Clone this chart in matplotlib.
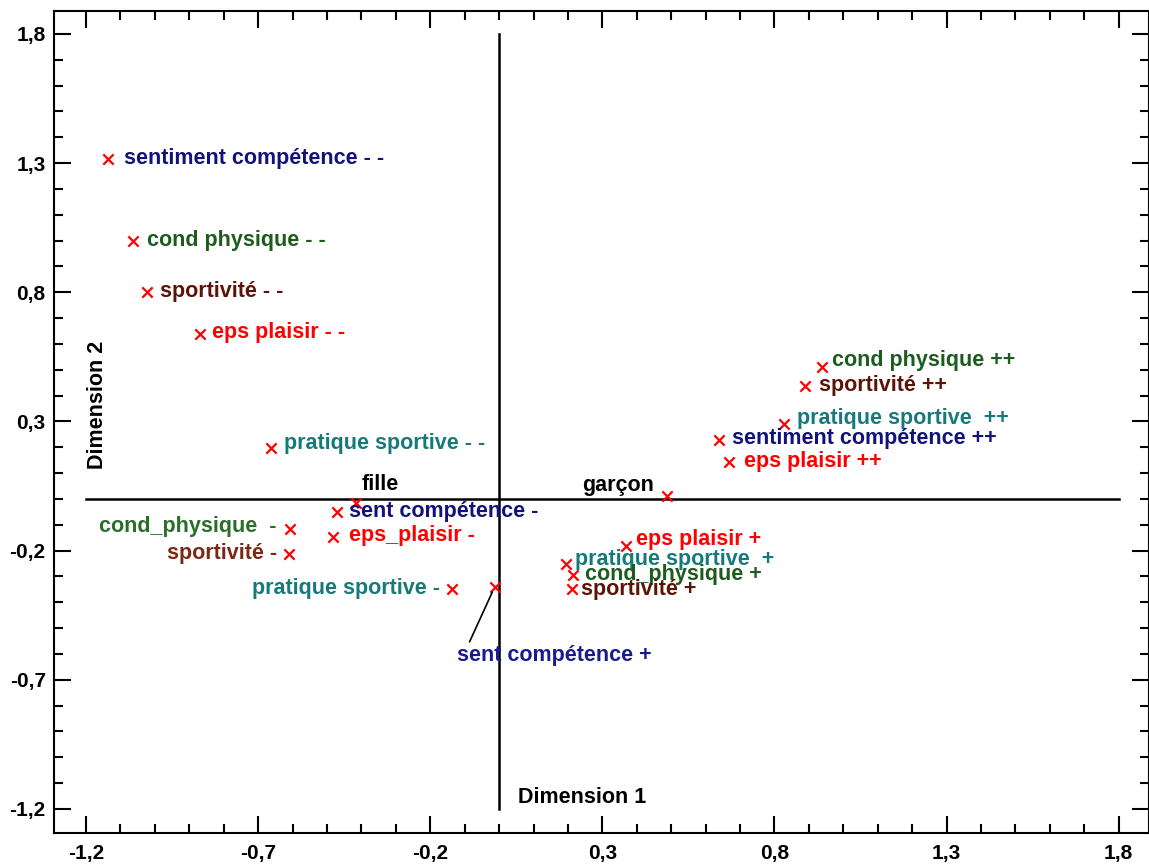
import matplotlib
matplotlib.use("Agg")
import matplotlib.pyplot as plt
from matplotlib.ticker import FixedLocator, FuncFormatter

plt.rcParams['font.family'] = ['Liberation Sans', 'DejaVu Sans']

# ---- data ----
labels = [
    "sentiment compétence - -", "cond physique - -", "sportivité - -", "eps plaisir - -",
    "pratique sportive - -", "fille", "sent compétence -", "eps_plaisir -",
    "cond_physique  -", "sportivité -", "pratique sportive -", "sent compétence +",
    "garçon", "eps plaisir +", "pratique sportive  +", "cond_physique +",
    "sportivité +", "cond physique ++", "sportivité ++", "pratique sportive  ++",
    "sentiment compétence ++", "eps plaisir ++",
]
dim1 = [-1.136, -1.064, -1.023, -0.869, -0.663, -0.417, -0.472, -0.483,
        -0.608, -0.611, -0.138, -0.013, 0.488, 0.370, 0.195, 0.216,
        0.213, 0.938, 0.889, 0.828, 0.639, 0.668]
dim2 = [1.316, 0.999, 0.801, 0.639, 0.197, -0.016, -0.051, -0.147,
        -0.116, -0.213, -0.349, -0.341, 0.011, -0.182, -0.252, -0.294,
        -0.349, 0.511, 0.437, 0.290, 0.228, 0.143]
xticks = [-1.2, -0.7, -0.2, 0.3, 0.8, 1.3, 1.8]
yticks = [-1.2, -0.7, -0.2, 0.3, 0.8, 1.3, 1.8]

# ---- styles (per label) ----
NAVY = '#12127a'
GREEN = '#1d5c1d'
BROWN = '#5c1408'
BROWN2 = '#7a2a14'
RED = '#ff0000'
TEAL = '#167a7a'
colors = [NAVY, GREEN, BROWN, RED, TEAL, 'black', NAVY, RED,
          '#2a6e2a', BROWN2, TEAL, '#1a1a8c', 'black', RED, TEAL, GREEN,
          BROWN, GREEN, BROWN, TEAL, NAVY, RED]
# label offsets in pixels (dx, dy), alignment
offsets = [(16, 1), (14, 0), (13, 1), (12, 1), (13, 5), (6, 19), (12, 1), (16, 1),
           (-13, 2), (-12, 1), (-12, 1), (-38, -68), (-13, 11), (10, 6), (9, 5), (12, 0),
           (9, 0), (10, 6), (14, 1), (13, 6), (13, 2), (15, 1)]
aligns = ['left'] * 8 + ['right', 'right', 'right', 'left', 'right'] + ['left'] * 9
FS = 15.5

fig = plt.figure(figsize=(11.49, 8.66), dpi=100)
ax = fig.add_axes([54 / 1149, 33 / 866, 1 - 54 / 1149, (833 - 11) / 866])

ax.set_xlim(-1.293, 1.888)
ax.set_ylim(-1.293, 1.889)

# reference axes
ax.plot([-1.2, 1.8], [0, 0], color='black', lw=1.8, zorder=1)
ax.plot([0, 0], [-1.2, 1.8], color='black', lw=1.8, zorder=1)

ax.scatter(dim1, dim2, marker='x', color='red', s=55, linewidths=1.6, zorder=3)

for i, lab in enumerate(labels):
    dx, dy = offsets[i]
    kw = {}
    if lab == "sent compétence +":
        kw['arrowprops'] = dict(arrowstyle='-', color='black', lw=1.2,
                                relpos=(0.06, 1.0), shrinkA=0, shrinkB=4)
    ax.annotate(lab, (dim1[i], dim2[i]), xytext=(dx, dy), textcoords='offset pixels',
                ha=aligns[i], va='center', color=colors[i], fontsize=FS,
                fontweight='bold', zorder=4, **kw)

ax.text(0.056, -1.154, "Dimension 1", ha='left', va='center', fontsize=FS,
        fontweight='bold')
ax.text(-1.168, 0.364, "Dimension 2", ha='center', va='center', rotation=90,
        fontsize=FS, fontweight='bold')

fmt = FuncFormatter(lambda v, p: f"{v:.1f}".replace('.', ','))
ax.xaxis.set_major_locator(FixedLocator(xticks))
ax.yaxis.set_major_locator(FixedLocator(yticks))
minors = [round(-1.2 + 0.1 * k, 2) for k in range(31)]
ax.xaxis.set_minor_locator(FixedLocator(minors))
ax.yaxis.set_minor_locator(FixedLocator(minors))
ax.xaxis.set_major_formatter(fmt)
ax.yaxis.set_major_formatter(fmt)
ax.tick_params(which='both', direction='in', top=True, right=True, width=1.5, color='black')
ax.tick_params(which='major', length=12)
ax.tick_params(which='minor', length=6.5)
ax.tick_params(axis='x', which='major', pad=8)
ax.tick_params(axis='y', which='major', pad=6)
for t in ax.get_xticklabels() + ax.get_yticklabels():
    t.set_fontweight('bold')
    t.set_fontsize(15)
for s in ax.spines.values():
    s.set_linewidth(1.5)

fig.savefig('out.png', dpi=100)
